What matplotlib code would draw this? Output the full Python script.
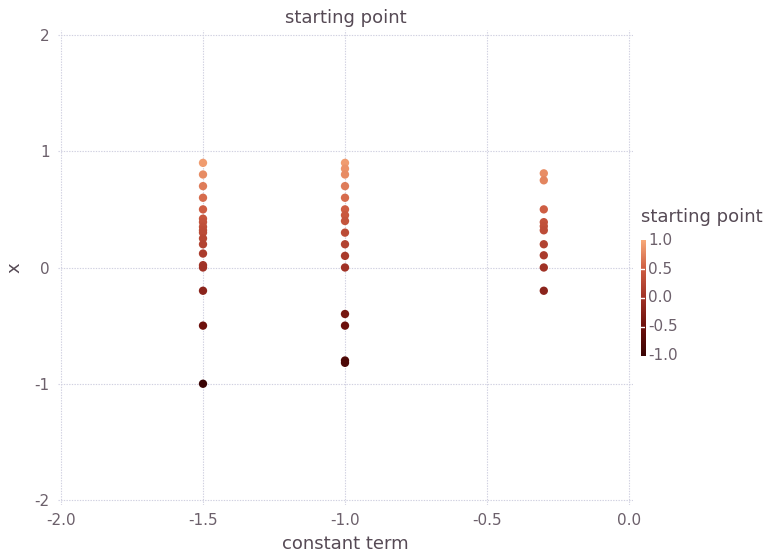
import numpy as np
import matplotlib.pyplot as plt
from matplotlib.colors import LinearSegmentedColormap

# converged x per constant term, coloured by starting point
x_a = [0.90, 0.80, 0.70, 0.60, 0.50, 0.42, 0.39, 0.35, 0.32, 0.30, 0.25,
       0.20, 0.12, 0.02, 0.0, -0.20, -0.50, -1.00]
const_a = [-1.5] * len(x_a)

x_b = [0.90, 0.85, 0.80, 0.70, 0.60, 0.50, 0.45, 0.40, 0.30, 0.20, 0.10,
       0.0, -0.40, -0.50, -0.80, -0.82]
const_b = [-1.0] * len(x_b)

x_c = [0.81, 0.75, 0.50, 0.39, 0.355, 0.32, 0.20, 0.105, 0.0, -0.20]
const_c = [-0.3] * len(x_c)

const = const_a + const_b + const_c
xvals = x_a + x_b + x_c
start = xvals

cbar_ticks = [-1.0, -0.5, 0.0, 0.5, 1.0]

GRID = "#d0d0e0"
TICK = "#6c606b"
LABEL = "#564a55"

cmap = LinearSegmentedColormap.from_list(
    "gad", ["#3a0404", "#6c100c", "#a03226", "#cd5d42", "#f8aa7a"])

W, H = 769, 554
fig = plt.figure(figsize=(W / 100, H / 100), dpi=100)

x0, x1 = 58, 633
y0, y1 = 30, 505
ax = fig.add_axes([x0 / W, 1 - y1 / H, (x1 - x0) / W, (y1 - y0) / H])
px = 284.0
ax.set_xlim(-2 - 3 / px, 0 + 4 / px)
py = 116.25
ax.set_ylim(-2 - 5 / py, 2 + 5 / py)

for s in ax.spines.values():
    s.set_visible(False)
ax.set_xticks([-2.0, -1.5, -1.0, -0.5, 0.0])
ax.set_xticklabels(["-2.0", "-1.5", "-1.0", "-0.5", "0.0"])
ax.set_yticks([-2, -1, 0, 1, 2])
ax.set_yticklabels(["-2", "-1", "0", "1", "2"])
ax.tick_params(length=0, labelsize=11, labelcolor=TICK, pad=6)
ax.grid(True, color=GRID, linestyle=(0, (1.2, 1.2)), linewidth=0.8)
ax.set_axisbelow(True)

sc = ax.scatter(const, xvals, c=start, cmap=cmap, vmin=-1, vmax=1, s=36,
                linewidths=0, zorder=3)

ax.set_xlabel("constant term", fontsize=13, color=LABEL, labelpad=5)
ax.set_ylabel("x", fontsize=13, color=LABEL, labelpad=8)
ax.set_title("starting point", fontsize=13, color=LABEL, pad=5)

# colour key
cax = fig.add_axes([641 / W, 1 - 356 / H, 4 / W, 116 / H])
grad = np.linspace(-1, 1, 256).reshape(-1, 1)
cax.imshow(grad, aspect="auto", cmap=cmap, origin="lower",
           extent=[0, 1, -1, 1])
for t in [-0.5, 0.0, 0.5]:
    cax.axhline(t, color="white", linewidth=1)
cax.set_xticks([])
cax.set_yticks([])
for s in cax.spines.values():
    s.set_visible(False)
for t in cbar_ticks:
    fig.text(648 / W, 1 - (298 - t * 57.5) / H, f"{t:.1f}", fontsize=11,
             color=TICK, va="center", ha="left")
fig.text(641 / W, 1 - 217 / H, "starting point", fontsize=13, color=LABEL,
         va="center", ha="left")

fig.savefig("out.png", dpi=100)
